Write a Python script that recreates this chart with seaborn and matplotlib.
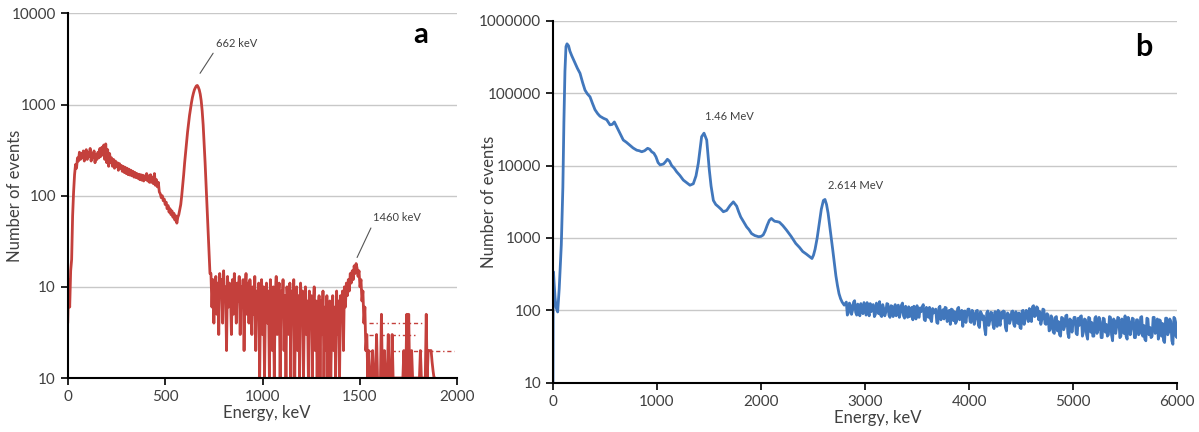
import numpy as np
import pandas as pd
import matplotlib
matplotlib.use("Agg")
import matplotlib.pyplot as plt
import seaborn as sns

# ---- panel a: counts per 5 keV bin ----
a_rise = [4, 12, 6, 15, 20, 60, 110, 170, 220]
a_plateau = [200, 260, 240, 300, 250, 290, 260, 310, 240, 280,
             320, 250, 300, 270, 330, 240, 290, 260, 310, 230,
             280, 250, 300, 260, 330, 270, 340, 280, 360, 250,
             370, 230, 320, 210, 290, 230, 260, 210, 250, 200,
             240, 210, 230, 190, 225, 200, 215, 185, 210, 180,
             205, 175, 200, 170, 195, 168, 190, 165, 185, 160,
             180, 158, 175, 155, 172, 150, 170, 148, 168, 145,
             165, 150, 175, 145, 165, 140, 170, 140, 160, 135,
             175, 130, 150, 125, 140, 110]
a_peak = [105, 95, 100, 88, 92, 80, 85, 72, 78, 66,
          72, 62, 68, 58, 64, 54, 60, 50, 58, 62,
          70, 80, 100, 130, 170, 230, 300, 390, 500, 620,
          760, 900, 1050, 1200, 1330, 1450, 1530, 1600, 1620, 1550,
          1450, 1300, 1100, 850, 600, 380, 230, 130, 75, 40,
          22, 14]
a_noise = [14, 6, 12, 4, 10, 13, 5, 11, 3, 14,
           8, 12, 4, 15, 7, 10, 2, 13, 6, 11,
           9, 3, 12, 5, 14, 8, 4, 11, 7, 13,
           3, 10, 6, 12, 2, 9, 14, 5, 11, 4,
           12, 7, 3, 10, 5, 13, 2, 9, 6, 11,
           1, 8, 12, 3, 10, 1, 7, 11, 4, 9,
           1, 12, 6, 2, 10, 1, 8, 13, 3, 7,
           11, 1, 9, 5, 12, 2, 8, 1, 10, 6,
           3, 11, 1, 9, 4, 12, 1, 7, 10, 2,
           8, 1, 11, 5, 9, 1, 6, 10, 3, 7,
           1, 9, 4, 8, 1, 6, 10, 2, 7, 1,
           5, 8, 1, 7, 3, 9, 1, 6, 2, 8,
           1, 5, 7, 1, 4, 8, 2, 6, 1, 9,
           3, 7, 1, 8, 5, 9, 2, 10, 6, 11,
           8, 12, 9, 14, 11, 15, 12, 17, 14, 18,
           16, 13, 15, 10, 12, 7, 9, 4, 6, 2,
           3, 1, 2, 1]
a_tail = [1, 1, 2, 1, 1, 1, 3, 1, 1, 1,
          1, 5, 1, 1, 2, 1, 1, 1, 3, 1,
          1, 1, 3, 1, 1, 1, 1, 1, 1, 1,
          1, 1, 1, 1, 2, 1, 1, 5, 1, 5,
          1, 1, 2, 1, 1, 1, 1, 1, 1, 1,
          1, 2, 1, 1, 1, 1, 1, 5, 1, 2,
          2, 2, 2, 1.5, 1.2, 1, 1]
a_bin_keV = 5
# dash-dot gap markers at the right end of spectrum a
a_gap_levels = [4, 3, 2]
a_gap_ends = [1830, 1780, 1980]
a_gap_start = 1545

# ---- panel b ----
b_keV = [0, 2, 5, 10, 20, 30, 45, 60, 80, 95,
         105, 115, 125, 135, 150, 163, 180, 212, 235, 260,
         285, 308, 330, 356, 380, 404, 430, 452, 485, 516,
         548, 570, 590, 610, 628, 650, 676, 705, 740, 770,
         805, 830, 853, 880, 910, 930, 949, 970, 990, 1010,
         1030, 1062, 1080, 1100, 1120, 1141, 1165, 1189, 1220, 1253,
         1285, 1317, 1349, 1375, 1397, 1415, 1429, 1452, 1478, 1490,
         1503, 1520, 1542, 1565, 1590, 1615, 1638, 1670, 1702, 1734,
         1766, 1785, 1805, 1835, 1862, 1885, 1909, 1940, 1976, 2000,
         2021, 2040, 2060, 2080, 2100, 2120, 2132, 2155, 2177, 2210,
         2244, 2290, 2334, 2370, 2401, 2435, 2468, 2490, 2505, 2520,
         2540, 2560, 2580, 2600, 2615, 2630, 2645, 2660, 2675, 2690,
         2705, 2720, 2735, 2750, 2765, 2780, 2800]
b_counts = [10, 120, 340, 250, 150, 110, 95, 200, 800, 5000,
            40000, 200000, 440000, 480000, 450000, 380000, 330000, 260000, 220000, 188000,
            140000, 110000, 98000, 89000, 72000, 59000, 52000, 48000, 45000, 43000,
            36500, 37000, 40000, 35000, 31000, 27000, 22500, 21000, 19000, 17500,
            16300, 16000, 15500, 16000, 17300, 16800, 15500, 14800, 13200, 11000,
            10200, 10500, 11200, 12200, 11500, 10000, 9200, 8200, 7300, 6300,
            5800, 5350, 5600, 7200, 10700, 17000, 25000, 28000, 22500, 14000,
            8700, 5200, 3300, 2900, 2700, 2500, 2300, 2400, 2800, 3150,
            2750, 2300, 1950, 1650, 1420, 1300, 1150, 1080, 1040, 1050,
            1100, 1250, 1500, 1750, 1860, 1750, 1700, 1680, 1650, 1480,
            1290, 1050, 840, 740, 650, 600, 550, 520, 580, 700,
            1000, 1600, 2500, 3300, 3400, 2900, 2200, 1500, 1000, 680,
            450, 300, 220, 170, 145, 130, 118]
# background above 2.8 MeV, 10 keV bins: even bins from 2820, odd bins from 2830
b_bg_start = 2820
b_bg_step = 20
b_bg_even = [130, 92, 118, 100, 136, 86, 112, 124, 90, 104,
             128, 84, 96, 120, 88, 110, 132, 82, 106, 94,
             122, 80, 114, 98, 84, 118, 92, 126, 78, 102,
             112, 88, 74, 108, 116, 80, 96, 120, 72, 100,
             110, 70, 92, 104, 66, 114, 86, 76, 108, 90,
             64, 102, 96, 70, 110, 82, 60, 98, 88, 104,
             68, 94, 76, 100, 58, 90, 84, 46, 98, 72,
             92, 56, 86, 100, 62, 78, 96, 52, 88, 74,
             98, 60, 84, 92, 56, 100, 76, 88, 106, 70,
             116, 84, 108, 96, 74, 102, 64, 86, 54, 78,
             48, 82, 70, 44, 78, 60, 86, 42, 72, 66,
             80, 46, 62, 84, 50, 74, 40, 78, 68, 44,
             82, 54, 70, 42, 76, 64, 46, 80, 38, 72,
             60, 78, 44, 68, 84, 40, 70, 56, 76, 42,
             74, 48, 82, 62, 38, 76, 58, 44, 80, 52,
             40, 72, 66, 36, 78, 50, 70, 34, 76, 42]
b_bg_odd = [86, 126, 88, 130, 94, 122, 84, 96, 128, 86,
            98, 124, 118, 82, 126, 90, 86, 120, 84, 124,
            86, 116, 82, 120, 112, 80, 118, 84, 114, 80,
            82, 110, 114, 76, 84, 108, 112, 74, 110, 80,
            76, 106, 100, 68, 108, 74, 102, 110, 70, 100,
            104, 72, 66, 106, 74, 100, 96, 68, 104, 70,
            100, 64, 98, 62, 96, 74, 56, 92, 62, 94,
            64, 96, 60, 70, 94, 98, 58, 92, 66, 96,
            64, 96, 66, 58, 98, 64, 100, 70, 80, 112,
            82, 112, 74, 64, 104, 66, 90, 52, 84, 50,
            80, 52, 46, 80, 54, 84, 48, 76, 50, 80,
            48, 78, 82, 44, 76, 46, 80, 50, 44, 78,
            48, 80, 42, 78, 50, 44, 82, 46, 76, 48,
            80, 42, 76, 48, 44, 80, 46, 78, 42, 74,
            46, 80, 44, 40, 78, 46, 42, 80, 48, 76,
            74, 44, 38, 78, 46, 76, 38, 80, 44, 72]

a_yticks = [1, 10, 100, 1000, 10000]
a_yticklabels = ["10", "10", "100", "1000", "10000"]
b_yticks = [10, 100, 1000, 10000, 100000, 1000000]
b_yticklabels = ["10", "100", "1000", "10000", "100000", "1000000"]

RED = "#C4403C"
BLUE = "#4177BC"
GREY = "#404040"


def build_frames():
    a_counts = a_rise + a_plateau + a_peak + a_noise + a_tail
    df_a = pd.DataFrame({"energy": np.arange(len(a_counts)) * a_bin_keV,
                         "counts": a_counts})
    even_keV = b_bg_start + np.arange(len(b_bg_even)) * b_bg_step
    odd_keV = even_keV + b_bg_step // 2
    df_b = pd.DataFrame({"energy": list(b_keV) + list(even_keV) + list(odd_keV),
                         "counts": b_counts + b_bg_even + b_bg_odd})
    df_b = df_b.sort_values("energy")
    return df_a, df_b


def style_axes(ax, xlim, ylim, yticks, yticklabels, xticks):
    ax.set_yscale("log")
    ax.set_xlim(*xlim)
    ax.set_ylim(*ylim)
    ax.set_xticks(xticks)
    ax.set_xticklabels([str(t) for t in xticks])
    ax.set_yticks(yticks)
    ax.set_yticklabels(yticklabels)
    ax.minorticks_off()
    ax.grid(axis="y", color="#c8c8c8", lw=1)
    ax.grid(axis="x", visible=False)
    for s in ["top", "right"]:
        ax.spines[s].set_visible(False)
    for s in ["left", "bottom"]:
        ax.spines[s].set_color("black")
        ax.spines[s].set_linewidth(1.5)
    ax.tick_params(axis="both", labelsize=11, labelcolor=GREY, color="black",
                   length=5, width=1.2, direction="out")
    ax.set_xlabel("Energy, keV", fontsize=12, color=GREY)
    ax.set_ylabel("Number of events", fontsize=12, color=GREY)


if __name__ == "__main__":
    sns.set_theme(style="ticks")
    plt.rcParams["font.family"] = ["Lato", "DejaVu Sans"]

    df_a, df_b = build_frames()

    fig = plt.figure(figsize=(11.99, 4.32), dpi=100)
    ax_a = fig.add_axes([0.0565, 0.125, 0.325, 0.844])
    ax_b = fig.add_axes([0.4612, 0.114, 0.5205, 0.838])

    # panel a
    sns.lineplot(data=df_a, x="energy", y="counts", ax=ax_a, color=RED,
                 lw=2.0, estimator=None)
    ax_a.hlines(a_gap_levels, a_gap_start, a_gap_ends, colors=RED,
                linestyles=(0, (3, 2, 1, 2)), lw=1)
    style_axes(ax_a, (0, 2000), (1, 10000), a_yticks, a_yticklabels,
               [0, 500, 1000, 1500, 2000])
    ax_a.yaxis.set_label_coords(-0.115, 0.5)
    ax_a.xaxis.set_label_coords(0.51, -0.074)
    ax_a.annotate("662 keV", xy=(679, 2200), xytext=(761, 4700),
                  fontsize=8, color=GREY, va="center", ha="left",
                  arrowprops=dict(arrowstyle="-", color="#555555", lw=0.8,
                                  relpos=(0, 0), shrinkA=1, shrinkB=0))
    ax_a.annotate("1460 keV", xy=(1485, 21), xytext=(1567, 57),
                  fontsize=8, color=GREY, va="center", ha="left",
                  arrowprops=dict(arrowstyle="-", color="#555555", lw=0.8,
                                  relpos=(0, 0), shrinkA=1, shrinkB=0))
    ax_a.text(0.905, 0.94, "a", transform=ax_a.transAxes, fontsize=21,
              fontweight="bold", ha="center", va="center", color="black")

    # panel b
    sns.lineplot(data=df_b, x="energy", y="counts", ax=ax_b, color=BLUE,
                 lw=2.0, estimator=None)
    style_axes(ax_b, (0, 6000), (10, 1000000), b_yticks, b_yticklabels,
               [0, 1000, 2000, 3000, 4000, 5000, 6000])
    ax_b.yaxis.set_label_coords(-0.090, 0.5)
    ax_b.xaxis.set_label_coords(0.52, -0.075)
    ax_b.text(1462, 47000, "1.46 MeV", fontsize=8, color=GREY,
              ha="left", va="center")
    ax_b.text(2644, 5350, "2.614 MeV", fontsize=8, color=GREY,
              ha="left", va="center")
    ax_b.text(0.946, 0.927, "b", transform=ax_b.transAxes, fontsize=22,
              fontweight="bold", ha="center", va="center", color="black")

    fig.savefig("out.png", dpi=100)
